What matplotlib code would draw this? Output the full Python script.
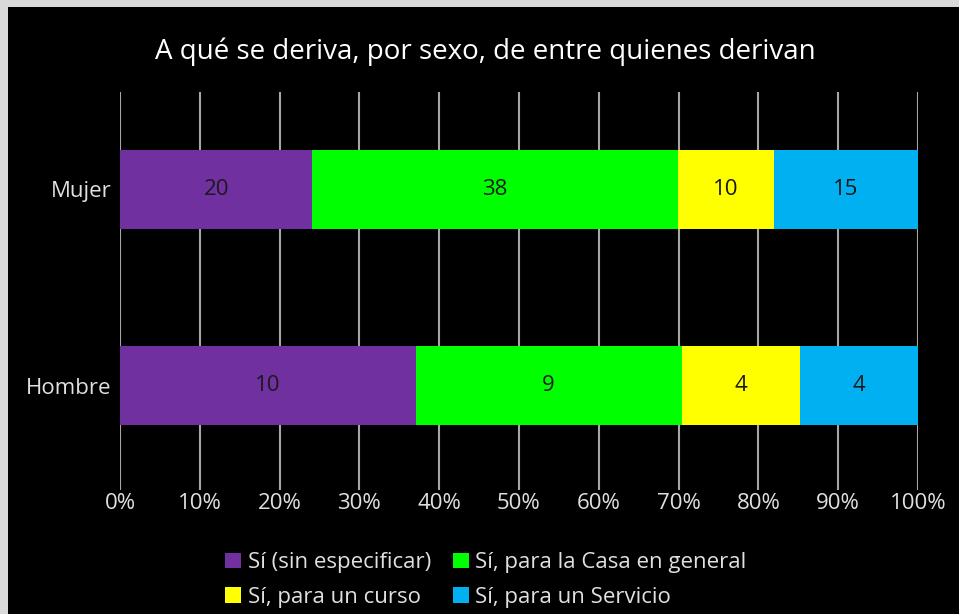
import matplotlib
matplotlib.use("Agg")
import matplotlib.pyplot as plt
import numpy as np

categories = ["Hombre", "Mujer"]
series_names = ["Sí (sin especificar)", "Sí, para la Casa en general", "Sí, para un curso", "Sí, para un Servicio"]
values = {
    "Sí (sin especificar)": [10, 20],
    "Sí, para la Casa en general": [9, 38],
    "Sí, para un curso": [4, 10],
    "Sí, para un Servicio": [4, 15],
}
colors = ["#7030A0", "#00FF00", "#FFFF00", "#00B0F0"]
xticks = [0, 10, 20, 30, 40, 50, 60, 70, 80, 90, 100]
title = "A qué se deriva, por sexo, de entre quienes derivan"

plt.rcParams['font.family'] = ['Open Sans', 'DejaVu Sans']

W, H = 959, 614
fig = plt.figure(figsize=(W/100, H/100), dpi=100)
fig.patch.set_facecolor("#D9D9D9")
bg = fig.add_axes([8/W, 0, 1-8/W, 1-7/H])
bg.set_facecolor("black")
bg.set_xticks([]); bg.set_yticks([])
for s in bg.spines.values():
    s.set_visible(False)

ax = fig.add_axes([120/W, 1-490/H, (918-120)/W, (490-92)/H])
ax.set_facecolor("none")
data = np.array([values[n] for n in series_names], dtype=float)
totals = data.sum(axis=0)
pct = data / totals * 100
y = np.arange(len(categories))
left = np.zeros(len(categories))
for i, n in enumerate(series_names):
    ax.barh(y, pct[i], left=left, height=0.403, color=colors[i], label=n, zorder=3)
    for j in range(len(categories)):
        ax.text(left[j] + pct[i][j]/2, y[j], f"{int(data[i][j])}", ha="center", va="center",
                fontsize=16, color="#1a1a1a", zorder=4)
    left += pct[i]

ax.set_xlim(0, 100)
ax.set_ylim(-0.533, 1.497)
ax.set_xticks(xticks)
ax.set_xticklabels([f"{t}%" for t in xticks])
ax.set_yticks(y)
ax.set_yticklabels(categories)
ax.grid(axis="x", color="#A6A6A6", linewidth=1.5, zorder=0)
ax.tick_params(axis="both", length=0, colors="#E0E0E0", labelsize=16)
ax.tick_params(axis="x", pad=2)
ax.tick_params(axis="y", pad=6)
for s in ax.spines.values():
    s.set_visible(False)

fig.text(485/W, 1-52/H, title, ha="center", va="center", fontsize=20, color="white")

handles, labels = ax.get_legend_handles_labels()
order = [0, 2, 1, 3]
leg = fig.legend([handles[k] for k in order], [labels[k] for k in order],
                 loc="center", bbox_to_anchor=(486/W, 1-580/H),
                 ncol=2, frameon=False, fontsize=16, labelcolor="#E0E0E0",
                 handlelength=0.7, handleheight=0.7, handletextpad=0.3, columnspacing=1.0,
                 labelspacing=0.62, borderpad=0.1)

fig.savefig("out.png", dpi=100, facecolor=fig.get_facecolor())
